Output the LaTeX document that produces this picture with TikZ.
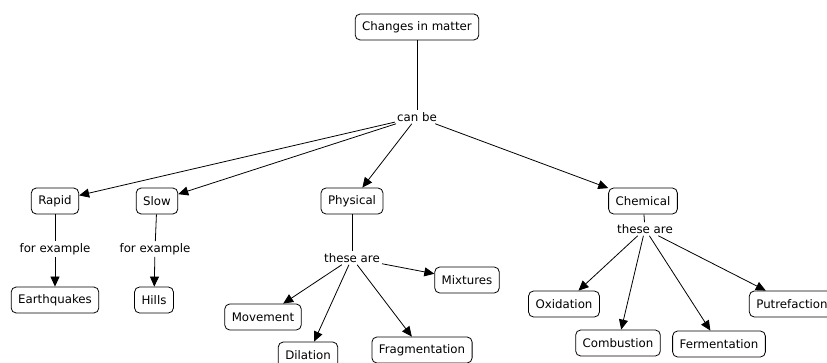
\documentclass[tikz,border=0pt]{standalone}
\usepackage{fontspec}
\setmainfont{DejaVu Sans}
\usetikzlibrary{arrows.meta}
\begin{document}
\begin{tikzpicture}[x=1pt,y=-1pt,
  concept/.style={draw, rounded corners=5pt, line width=0.8pt, inner xsep=7pt, minimum height=26pt, font=\fontsize{11.8}{14}\selectfont},
  linkword/.style={inner sep=2pt, font=\fontsize{11.8}{14}\selectfont},
  conn/.style={line width=0.8pt},
  arr/.style={line width=0.8pt, -{Triangle[length=10pt,width=9pt]}}]
\useasboundingbox (0,0) rectangle (827,363);
\node[concept] (changes) at (417,27) {Changes in matter};
\node[linkword] (canbe) at (417,117) {can be};
\node[concept] (rapid) at (55,201) {Rapid};
\node[concept] (slow) at (157,201) {Slow};
\node[concept] (physical) at (352,201) {Physical};
\node[concept] (chemical) at (643,201) {Chemical};
\node[linkword] (fe1) at (55,249) {for example};
\node[linkword] (fe2) at (155,249) {for example};
\node[concept] (earth) at (55,300) {Earthquakes};
\node[concept] (hills) at (154,300) {Hills};
\node[linkword] (ta1) at (352,258) {these are};
\node[concept] (movement) at (263,317) {Movement};
\node[concept] (dilation) at (308,355) {Dilation};
\node[concept] (frag) at (422,350) {Fragmentation};
\node[concept] (mixtures) at (467,280) {Mixtures};
\node[linkword] (ta2) at (645,229) {these are};
\node[concept] (oxid) at (564,304) {Oxidation};
\node[concept] (comb) at (618,343) {Combustion};
\node[concept] (ferm) at (719,344) {Fermentation};
\node[concept] (putr) at (792,304) {Putrefaction};

\draw[conn] (changes) -- (canbe);
\draw[arr] (canbe) -- (rapid);
\draw[arr] (canbe) -- (slow);
\draw[arr] (canbe) -- (physical);
\draw[arr] (canbe) -- (chemical);
\draw[conn] (rapid) -- (fe1);
\draw[arr] (fe1) -- (earth);
\draw[conn] (slow) -- (fe2);
\draw[arr] (fe2) -- (hills);
\draw[conn] (physical) -- (ta1);
\draw[arr] (ta1) -- (movement);
\draw[arr] (ta1) -- (dilation);
\draw[arr] (ta1) -- (frag);
\draw[arr] (ta1) -- (mixtures);
\draw[conn] (chemical) -- (ta2);
\draw[arr] (ta2) -- (oxid);
\draw[arr] (ta2) -- (comb);
\draw[arr] (ta2) -- (ferm);
\draw[arr] (ta2) -- (putr);
\end{tikzpicture}
\end{document}
